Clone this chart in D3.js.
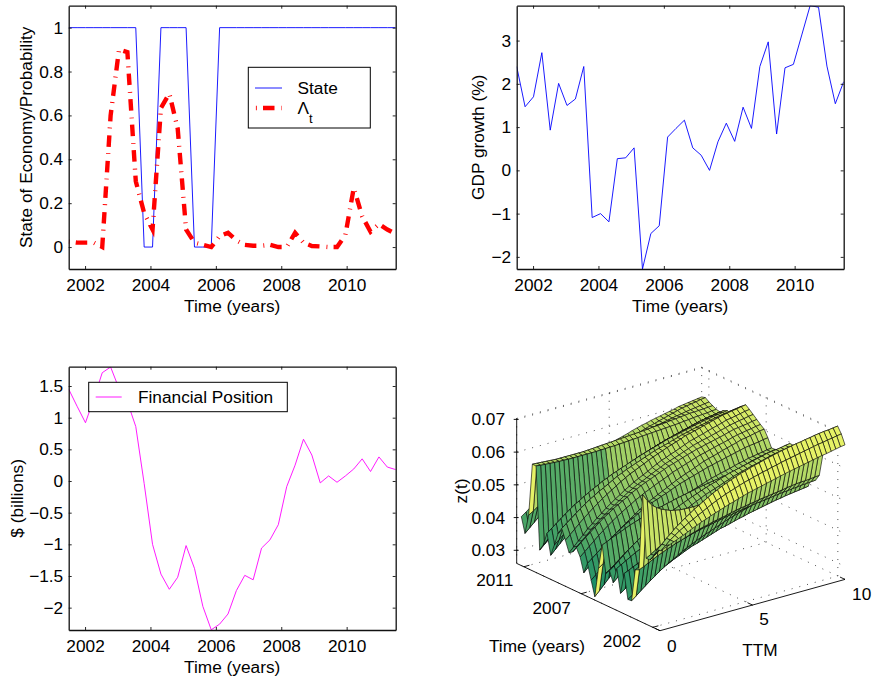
<!DOCTYPE html>
<html>
<head>
<meta charset="utf-8">
<title>Economy, GDP, financial position and z(t) surface</title>
<script src="https://cdn.jsdelivr.net/npm/d3@7"></script>
<style>
  html, body { margin: 0; padding: 0; background: #fff; }
  svg { display: block; }
  text { font-family: "Liberation Sans", Arial, sans-serif; fill: #000; }
</style>
</head>
<body>
<svg id="chart" width="872" height="679"></svg>
<script>
"use strict";

// ── Data ─────────────────────────────────────────────────────────────────────
const yearTicks = [2002, 2004, 2006, 2008, 2010];

const stateSeries = [1,1,1,1,1,1,1,1,1,0,0,1,1,1,1,0,0,0,1,1,1,1,1,1,1,1,1,1,1,1,1,1,1,1,1,1,1,1,1,1];
const lambdaSeries = [0.025,0.02,0.02,0.02,0,0.6,0.9,0.888,0.3,0.155,0.08,0.634,0.7,0.54,0.08,0.02,0.01,0,0.05,0.065,
  0.03,0.01,0.006,0.006,0.01,0,0,0.065,0.02,0.005,0.003,0,0,0.055,0.27,0.14,0.07,0.105,0.08,0.06];
const gdpSeries = [2.4,1.47,1.7,2.72,0.93,2.01,1.5,1.65,2.4,-1.09,-1,-1.19,0.27,0.29,0.52,-2.28,-1.46,-1.28,0.77,0.97,
  1.16,0.52,0.35,0,0.66,1.09,0.67,1.46,0.97,2.4,2.97,0.84,2.37,2.45,3.13,3.81,3.77,2.41,1.54,2.05];
const positionSeries = [1.45,1.18,0.92,1.3,1.71,1.8,1.46,1.25,0.86,-0.04,-1,-1.47,-1.71,-1.52,-1.02,-1.38,-1.98,-2.35,-2.26,-2.1,
  -1.73,-1.49,-1.56,-1.06,-0.93,-0.69,-0.09,0.25,0.66,0.41,-0.03,0.08,-0.02,0.08,0.19,0.35,0.15,0.38,0.22,0.18];

const stateTicks = [0, 0.2, 0.4, 0.6, 0.8, 1];
const gdpTicks = [-2, -1, 0, 1, 2, 3];
const positionTicks = [-2, -1.5, -1, -0.5, 0, 0.5, 1, 1.5];

// surface: one row per quarter (2001.5 first), z(t) in basis points for TTM 0.25 .. 10
const surfaceBp = [
  [508,514,520,526,532,538,545,551,557,562,568,573,578,583,588,592,597,601,606,609,613,616,620,623,627,630,634,637,640,643,646,649,652,655,658,660,663,666,669,671],
  [495,507,520,530,540,548,557,564,572,579,587,594,601,607,613,618,623,628,633,637,641,645,649,652,656,659,663,666,669,672,675,678,681,684,687,689,692,694,697,699],
  [493,506,520,532,545,555,566,575,585,593,602,610,618,625,632,638,644,649,655,659,664,668,672,676,680,683,687,690,693,696,699,701,704,706,709,711,713,714,716,718],
  [470,481,493,504,516,526,537,546,555,563,571,579,587,594,601,607,613,618,624,630,636,640,645,649,654,658,663,666,670,673,677,680,684,687,691,693,695,697,700,702],
  [451,461,472,483,494,503,513,521,530,537,545,552,560,566,572,577,583,588,594,599,604,608,613,617,621,625,630,633,636,639,643,646,649,652,655,657,660,662,664,666],
  [451,459,468,477,486,493,501,508,515,521,528,534,540,545,550,554,559,563,568,572,576,579,583,586,590,593,597,599,602,605,608,610,613,615,618,620,622,623,625,627],
  [640,618,600,589,580,574,568,565,562,561,560,560,560,560,561,562,563,564,566,568,570,572,574,576,578,580,583,585,587,589,592,594,597,599,601,603,605,607,609,611],
  [405,411,418,425,432,438,444,449,455,459,464,469,474,478,482,485,489,492,495,498,502,505,508,510,513,515,518,520,522,524,526,528,531,533,535,536,537,538,540,541],
  [400,406,412,418,424,429,435,439,444,448,453,457,461,464,468,471,474,477,480,483,486,488,491,493,496,498,501,502,504,506,508,510,512,513,515,516,518,519,520,521],
  [300,311,323,334,345,355,366,375,384,392,400,408,416,422,429,435,441,446,452,457,463,468,473,477,482,486,491,494,497,500,504,507,511,514,518,520,522,524,527,529],
  [299,308,318,327,337,345,354,362,370,376,383,389,396,402,408,412,417,422,427,432,437,440,444,448,452,455,459,462,465,468,471,474,477,479,482,484,486,488,490,492],
  [373,379,386,392,398,404,410,415,420,424,429,433,438,441,445,448,452,455,458,461,464,467,470,472,475,477,480,481,483,485,487,489,491,493,495,496,497,498,500,501],
  [307,317,327,337,348,357,366,374,382,389,396,403,411,417,423,428,433,438,443,448,453,457,461,465,469,473,478,481,484,487,490,493,496,499,502,504,506,508,510,512],
  [378,386,394,402,410,417,425,431,438,443,449,455,461,465,470,474,478,482,487,491,495,498,501,504,508,511,514,516,519,521,524,526,529,531,534,535,537,538,540,541],
  [329,342,356,369,382,394,406,416,427,436,446,455,464,472,480,486,493,500,507,513,520,525,530,535,541,546,552,556,560,564,568,571,575,579,583,586,589,591,594,596],
  [360,371,383,395,407,417,428,437,447,455,463,471,479,486,493,499,505,511,517,522,528,533,538,542,547,552,557,560,564,567,571,574,578,581,585,587,589,591,594,596],
  [347,357,368,379,390,399,409,417,426,433,441,448,456,462,468,473,479,484,490,495,500,504,509,513,517,521,526,529,532,535,539,542,545,548,551,553,556,558,560,562],
  [428,434,441,447,453,459,465,470,475,479,484,488,493,496,500,503,507,510,513,516,519,522,525,527,530,532,535,536,538,540,542,544,546,548,550,551,552,553,555,556],
  [352,362,372,382,392,400,409,417,425,432,439,446,453,459,465,470,475,480,485,490,495,498,502,506,510,514,518,521,524,527,530,533,536,539,542,544,546,548,550,552],
  [260,274,289,304,319,332,345,357,369,379,389,399,410,419,428,435,442,449,457,464,472,477,483,489,495,501,507,511,516,520,525,529,533,537,542,545,548,551,554,557],
  [305,317,330,342,355,366,377,387,397,406,415,423,432,439,447,453,459,465,472,478,484,489,494,499,504,509,514,518,522,525,529,533,537,540,544,546,549,551,554,556],
  [351,362,374,385,397,407,417,426,436,444,452,460,468,475,482,487,493,498,504,510,516,520,525,529,534,538,543,546,550,553,557,560,564,567,571,573,575,577,580,582],
  [317,331,345,359,374,386,399,410,422,432,442,452,462,470,479,486,493,500,507,514,521,527,533,538,544,550,556,560,564,568,573,577,581,585,590,592,595,598,601,603],
  [360,372,385,397,410,421,432,442,452,461,470,478,487,494,502,508,515,521,527,533,540,545,550,555,560,565,570,573,577,581,585,588,592,596,600,602,605,607,610,612],
  [383,395,407,418,430,441,452,461,471,479,487,495,504,511,518,524,530,536,542,548,554,558,563,568,573,577,582,585,589,592,596,599,603,607,611,613,615,617,620,622],
  [365,378,391,404,418,430,442,452,463,472,482,491,500,508,516,522,529,536,543,549,556,561,566,571,577,582,588,592,596,599,603,607,611,615,619,622,625,627,630,632],
  [357,371,385,399,414,426,439,450,462,472,482,491,501,509,518,525,532,539,547,554,561,566,572,577,583,589,595,599,603,607,612,616,620,624,629,631,634,637,640,642],
  [390,403,416,429,442,453,465,475,486,495,504,513,522,530,538,544,551,557,564,570,576,581,587,592,597,602,608,611,615,619,623,627,631,635,639,641,644,646,649,651],
  [421,432,443,454,465,475,485,493,502,509,517,525,533,539,546,551,557,562,568,573,579,583,587,591,596,600,605,608,612,615,618,621,625,628,631,633,636,638,640,642],
  [400,411,422,433,444,454,464,472,481,489,497,504,512,518,525,530,536,541,547,552,558,562,567,571,576,580,585,588,591,594,598,601,605,608,611,613,616,618,620,622],
  [360,372,385,397,410,421,432,442,452,461,470,478,487,494,502,508,515,521,527,533,540,545,550,555,560,565,570,573,577,581,585,588,592,596,600,602,605,607,610,612],
  [323,337,351,364,378,390,403,414,425,435,445,454,464,472,481,488,495,502,509,515,522,528,534,539,545,550,556,560,564,568,572,576,581,585,589,591,594,597,600,602],
  [385,396,407,418,429,439,449,457,466,474,482,489,497,503,510,515,521,526,532,537,543,547,552,556,561,565,570,573,576,579,583,586,590,593,596,598,601,603,605,607],
  [345,358,371,383,396,407,419,429,439,448,457,466,475,482,490,496,503,509,516,522,529,534,539,544,549,554,559,563,567,571,575,578,582,586,590,592,595,597,600,602],
  [323,336,350,363,376,388,400,411,422,431,440,449,459,467,475,482,489,495,502,508,515,520,526,531,537,542,547,551,555,559,563,567,571,575,579,582,585,587,590,592],
  [575,573,572,571,570,569,569,568,568,568,568,568,568,568,569,569,570,570,571,572,573,574,575,576,577,578,579,580,581,582,583,584,586,587,589,590,591,592,594,595],
  [575,574,573,572,571,570,570,570,570,570,570,570,571,572,573,574,575,576,577,578,579,580,581,582,583,584,586,587,588,589,591,592,594,595,597,597,598,599,600,601],
  [414,423,433,442,452,460,469,477,485,491,498,504,511,517,523,527,532,537,542,547,552,555,559,563,567,570,574,577,580,583,586,589,592,594,597,599,601,603,605,607],
  [353,366,379,392,405,416,428,438,449,458,467,476,486,493,501,507,514,520,527,533,540,545,551,556,561,566,571,575,579,583,587,591,595,599,603,605,608,610,613,615],
  [399,409,420,430,441,450,460,468,477,484,492,499,507,513,519,524,530,535,540,545,551,555,559,563,568,572,576,579,583,586,589,592,595,598,602,604,606,608,610,612]
];
const zTicks = [0.03, 0.04, 0.05, 0.06, 0.07];
const surfaceTimeTicks = [2002, 2007, 2011];
const ttmTicks = [0, 5, 10];

const svg = d3.select("#chart");
const FONT = 17.25;
const quarterTime = d3.range(stateSeries.length).map(i => 2001.5 + i * 10 / (stateSeries.length - 1));
const ttmGrid = d3.range(1, 41).map(k => k / 4);
const minusFormat = d => String(d).replace("-", "\u2212");

// ── 2D panel helper ──────────────────────────────────────────────────────────
function addPanel(box, yDomain, yTicks, yLabel, yLabelX) {
  const x = d3.scaleLinear().domain([2001.5, 2011.5]).range([box.left, box.right]);
  const y = d3.scaleLinear().domain(yDomain).range([box.bottom, box.top]);
  const g = svg.append("g");
  const id = "clip" + Math.round(box.left) + Math.round(box.top);

  g.append("clipPath").attr("id", id).append("rect")
    .attr("x", box.left).attr("y", box.top)
    .attr("width", box.right - box.left).attr("height", box.bottom - box.top);

  const lines = g.append("g").attr("clip-path", `url(#${id})`);

  const axes = g.append("g");
  const styleAxis = sel => {
    sel.selectAll("path").attr("stroke", "#111").attr("stroke-width", 1.3);
    sel.selectAll("line").attr("stroke", "#111").attr("stroke-width", 0.9);
    sel.selectAll("text").attr("font-size", FONT).attr("font-family", "Liberation Sans");
  };
  axes.append("g").attr("transform", `translate(0,${box.bottom})`)
    .call(d3.axisBottom(x).tickValues(yearTicks).tickFormat(d3.format("d")).tickSizeInner(-3).tickSizeOuter(0).tickPadding(9.5))
    .call(styleAxis);
  axes.append("g").attr("transform", `translate(0,${box.top})`)
    .call(d3.axisTop(x).tickValues(yearTicks).tickFormat("").tickSizeInner(-3).tickSizeOuter(0))
    .call(styleAxis);
  axes.append("g").attr("transform", `translate(${box.left},0)`)
    .call(d3.axisLeft(y).tickValues(yTicks).tickFormat(minusFormat).tickSizeInner(-3).tickSizeOuter(0).tickPadding(5.5))
    .call(styleAxis);
  axes.append("g").attr("transform", `translate(${box.right},0)`)
    .call(d3.axisRight(y).tickValues(yTicks).tickFormat("").tickSizeInner(-3).tickSizeOuter(0))
    .call(styleAxis);

  g.append("text").attr("x", (box.left + box.right) / 2).attr("y", box.bottom + 43)
    .attr("text-anchor", "middle").attr("font-size", FONT).text("Time (years)");
  g.append("text")
    .attr("transform", `translate(${yLabelX},${(box.top + box.bottom) / 2 + (box.labelShift || 0)}) rotate(-90)`)
    .attr("text-anchor", "middle").attr("font-size", FONT).text(yLabel);

  const line = d3.line().x((d, i) => x(quarterTime[i])).y(d => y(d));
  return { lines, line };
}

function addLegendBox(x0, y0, x1, y1) {
  return svg.append("rect").attr("x", x0).attr("y", y0)
    .attr("width", x1 - x0).attr("height", y1 - y0)
    .attr("fill", "#fff").attr("stroke", "#000").attr("stroke-width", 1);
}

// ── Panel 1: state and Lambda ────────────────────────────────────────────────
const LAMBDA_DASH = "11.5 7 0.9 6.2";
const p1 = addPanel({ left: 68.7, right: 395.7, top: 5.7, bottom: 269 }, [-0.1, 1.1], stateTicks, "State of Economy/Probability", 32);
p1.lines.append("path").attr("d", p1.line(stateSeries))
  .attr("fill", "none").attr("stroke", "#0000ff").attr("stroke-width", 0.9);
p1.lines.append("path").attr("d", p1.line(lambdaSeries))
  .attr("fill", "none").attr("stroke", "#ff0000").attr("stroke-width", 4.4)
  .attr("stroke-dasharray", LAMBDA_DASH).attr("stroke-dashoffset", 18.5);

addLegendBox(248.3, 67.3, 370.3, 128);
svg.append("line").attr("x1", 255).attr("x2", 282).attr("y1", 88).attr("y2", 88)
  .attr("stroke", "#0000ff").attr("stroke-width", 0.9);
svg.append("line").attr("x1", 255).attr("x2", 282).attr("y1", 108).attr("y2", 108)
  .attr("stroke", "#ff0000").attr("stroke-width", 4.4).attr("stroke-dasharray", LAMBDA_DASH).attr("stroke-dashoffset", 17.6);
svg.append("text").attr("x", 297.5).attr("y", 94).attr("font-size", FONT).text("State");
const lambdaLabel = svg.append("text").attr("x", 297.5).attr("y", 114).attr("font-size", FONT).text("\u039B");
lambdaLabel.append("tspan").attr("dy", 9).attr("font-size", 13).text("t");

// ── Panel 2: GDP growth ──────────────────────────────────────────────────────
const p2 = addPanel({ left: 516.7, right: 843.7, top: 5.7, bottom: 269 }, [-2.28, 3.806], gdpTicks, "GDP growth (%)", 484);
p2.lines.append("path").attr("d", p2.line(gdpSeries))
  .attr("fill", "none").attr("stroke", "#0000ff").attr("stroke-width", 0.9);

// ── Panel 3: financial position ──────────────────────────────────────────────
const p3 = addPanel({ left: 68.7, right: 395.7, top: 366.7, bottom: 630, labelShift: 0 }, [-2.353, 1.805], positionTicks, "$ (billions)", 23);
p3.lines.append("path").attr("d", p3.line(positionSeries))
  .attr("fill", "none").attr("stroke", "#ff00ff").attr("stroke-width", 0.9);

addLegendBox(88.7, 382.3, 287.3, 411.7);
svg.append("line").attr("x1", 95.7).attr("x2", 121.7).attr("y1", 397).attr("y2", 397)
  .attr("stroke", "#ff00ff").attr("stroke-width", 0.9);
svg.append("text").attr("x", 138).attr("y", 403).attr("font-size", FONT).text("Financial Position");

// ── Panel 4: z(t) surface ────────────────────────────────────────────────────
const zMin = 0.026, zMax = 0.0703, tMin = 2001.5, tMax = 2011.5;
const ttmX = d3.scaleLinear().domain([0, 10]).range([0, 185]);
const ttmY = d3.scaleLinear().domain([0, 10]).range([0, -51.3]);
const timeX = d3.scaleLinear().domain([tMin, tMax]).range([0, -143.3]);
const timeY = d3.scaleLinear().domain([tMin, tMax]).range([0, -67.3]);
const zY = d3.scaleLinear().domain([zMin, zMax]).range([0, -145]);
const project = (m, t, z) => [660 + ttmX(m) + timeX(t), 630.7 + ttmY(m) + timeY(t) + zY(z)];
const summer = d3.interpolateRgb("#008066", "#ffff66");

const g3 = svg.append("g");
const seg = (p, q) => g3.append("line")
  .attr("x1", p[0]).attr("y1", p[1]).attr("x2", q[0]).attr("y2", q[1]);
const dotted = (p, q) => seg(p, q).attr("stroke", "#222").attr("stroke-width", 0.8).attr("stroke-dasharray", "1 7");
const solid = (p, q) => seg(p, q).attr("stroke", "#000").attr("stroke-width", 0.9);

// back walls and floor
zTicks.concat([zMax]).forEach(z => {
  dotted(project(0, tMax, z), project(10, tMax, z));
  dotted(project(10, tMax, z), project(10, tMin, z));
});
ttmTicks.forEach(m => {
  dotted(project(m, tMin, zMin), project(m, tMax, zMin));
  dotted(project(m, tMax, zMin), project(m, tMax, zMax));
});
surfaceTimeTicks.forEach(t => {
  dotted(project(0, t, zMin), project(10, t, zMin));
  dotted(project(10, t, zMin), project(10, t, zMax));
});

// axes
solid(project(0, tMax, zMin), project(0, tMax, zMax));
solid(project(0, tMax, zMin), project(0, tMin, zMin));
solid(project(0, tMin, zMin), project(10, tMin, zMin));
zTicks.forEach(z => {
  const p = project(0, tMax, z);
  solid([p[0] - 3, p[1]], [p[0] + 2, p[1]]);
});
surfaceTimeTicks.forEach(t => solid(project(0, t, zMin), project(0.3, t, zMin)));
ttmTicks.forEach(m => solid(project(m, tMin, zMin), project(m, tMin + 0.35, zMin)));

// shade a face from its height and its tilt along the time direction
function faceShade(i, j) {
  const a = surfaceBp[i][j], b = surfaceBp[i][j + 1], c = surfaceBp[i + 1][j + 1], d = surfaceBp[i + 1][j];
  const height = Math.max(0, Math.min(1, ((a + b + c + d) / 4 - 300) / 380));
  const rise = (c + d - a - b) / 2;
  let v = 0.1 + 0.85 * height;
  if (j === 0 && rise < -70) v = 0.9;
  else if (rise < -120) v = 0.72;
  else if (i < 7 && rise > 0) v += i < 3 ? 0.14 : 0.16;
  else if (rise > 90) v = 0.08 + 0.55 * height;
  return summer(Math.min(0.9, v));
}

// rows from the far end to the near end so nearer faces paint over
const faces = [];
for (let i = surfaceBp.length - 2; i >= 0; i--) {
  for (let j = ttmGrid.length - 2; j >= 0; j--) {
    faces.push({ i, j });
  }
}
const corner = (i, j) => project(ttmGrid[j], quarterTime[i], surfaceBp[i][j] / 10000);
g3.append("g").selectAll("path").data(faces).join("path")
  .attr("d", d => "M" + [corner(d.i, d.j), corner(d.i, d.j + 1), corner(d.i + 1, d.j + 1), corner(d.i + 1, d.j)].join("L") + "Z")
  .attr("fill", d => faceShade(d.i, d.j))
  .attr("stroke", "#0a0a0a").attr("stroke-width", 0.65).attr("stroke-linejoin", "round");

// labels
zTicks.forEach(z => {
  g3.append("text").attr("x", 505).attr("y", project(0, tMax, z)[1] + 6)
    .attr("text-anchor", "end").attr("font-size", FONT).text(z.toFixed(2));
});
[[2011, 494.7, 586], [2007, 551.7, 614], [2002, 622, 647]].forEach(([t, px, py]) => {
  g3.append("text").attr("x", px).attr("y", py).attr("text-anchor", "middle").attr("font-size", FONT).text(t);
});
[[0, 671.7, 652], [5, 764, 625], [10, 861.7, 600]].forEach(([m, px, py]) => {
  g3.append("text").attr("x", px).attr("y", py).attr("text-anchor", "middle").attr("font-size", FONT).text(m);
});
g3.append("text").attr("x", 537).attr("y", 652).attr("text-anchor", "middle").attr("font-size", FONT).text("Time (years)");
g3.append("text").attr("x", 760).attr("y", 656).attr("text-anchor", "middle").attr("font-size", FONT).text("TTM");
g3.append("text").attr("transform", "translate(466.5,491) rotate(-90)")
  .attr("text-anchor", "middle").attr("font-size", FONT).text("z(t)");
</script>
</body>
</html>
